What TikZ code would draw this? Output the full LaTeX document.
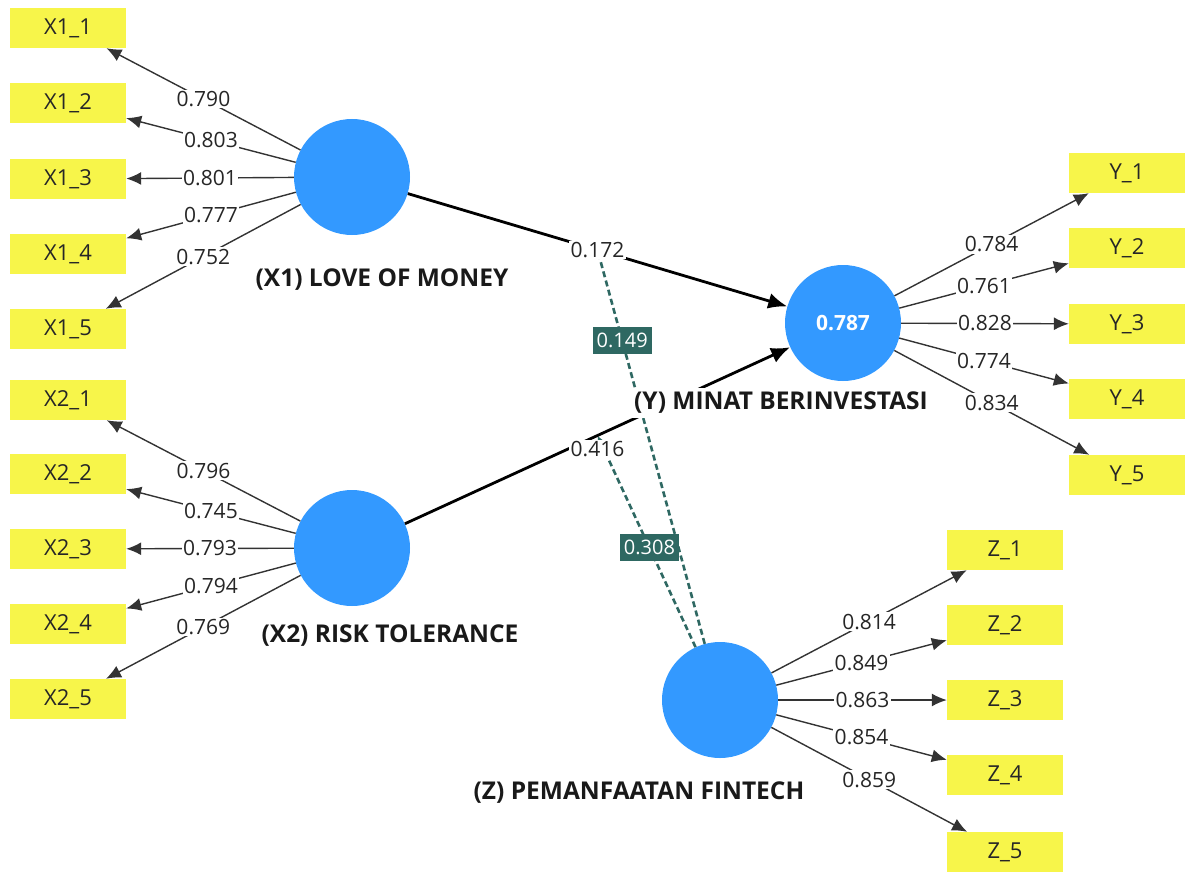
\documentclass[tikz,border=0pt]{standalone}
\usepackage{fontspec}
\setmainfont{Open Sans}
\usetikzlibrary{arrows.meta,%
	positioning,%
	calc}
\definecolor{lvblue}{RGB}{51,153,255}
\definecolor{itemyellow}{RGB}{247,245,74}
\definecolor{modteal}{RGB}{46,104,98}

\begin{document}
\begin{tikzpicture}[x=1pt, y=-1pt, latent/.style = {circle, fill=lvblue, minimum size=116pt, inner sep=0pt, text=white, font=\fontsize{21}{24}\selectfont\bfseries}, item/.style = {fill=itemyellow, minimum width=116pt, minimum height=40pt, inner sep=0pt, text=black!85, font=\fontsize{22}{25}\selectfont}, lvname/.style = {fill=white, inner sep=4pt, font=\fontsize{24.5}{28}\selectfont\bfseries, text=black!90}, loading/.style = {draw=black!80, line width=1.4pt, -{Latex[length=15pt,width=13pt]}}, structural/.style = {draw=black, line width=2.8pt, -{Latex[length=19pt,width=16pt]}}, moderation/.style = {draw=modteal, line width=2.6pt, dash pattern=on 6pt off 3.5pt, -{Latex[length=8pt,width=8pt]}}, weight/.style = {fill=white, inner sep=1.5pt, text=black!85, font=\fontsize{21}{24}\selectfont}, modweight/.style = {fill=modteal, inner xsep=4pt, inner ysep=6pt, text=white, font=\fontsize{20}{23}\selectfont}]
	\useasboundingbox (0,0) rectangle (1186,872);
	% latent variables
	\node[latent] (x1) at (352,177) {};
	\node[latent] (x2) at (352,548) {};
	\node[latent] (y) at (843,323) {0.787};
	\node[latent] (z) at (720,700) {};
	% indicators
	\node[item] (x11) at (68,28) {X1\_1};
	\node[item] (x12) at (68,103) {X1\_2};
	\node[item] (x13) at (68,179) {X1\_3};
	\node[item] (x14) at (68,254) {X1\_4};
	\node[item] (x15) at (68,329) {X1\_5};
	\node[item] (x21) at (68,400) {X2\_1};
	\node[item] (x22) at (68,474) {X2\_2};
	\node[item] (x23) at (68,549) {X2\_3};
	\node[item] (x24) at (68,624) {X2\_4};
	\node[item] (x25) at (68,699) {X2\_5};
	\node[item] (y1) at (1127,173) {Y\_1};
	\node[item] (y2) at (1127,248) {Y\_2};
	\node[item] (y3) at (1127,324) {Y\_3};
	\node[item] (y4) at (1127,399) {Y\_4};
	\node[item] (y5) at (1127,475) {Y\_5};
	\node[item] (z1) at (1005,550) {Z\_1};
	\node[item] (z2) at (1005,625) {Z\_2};
	\node[item] (z3) at (1005,700) {Z\_3};
	\node[item] (z4) at (1005,775) {Z\_4};
	\node[item] (z5) at (1005,852) {Z\_5};
	% outer loadings
	\draw[loading] (x1) -- node[weight] {0.790} (x11);
	\draw[loading] (x1) -- node[weight] {0.803} (x12);
	\draw[loading] (x1) -- node[weight] {0.801} (x13);
	\draw[loading] (x1) -- node[weight] {0.777} (x14);
	\draw[loading] (x1) -- node[weight] {0.752} (x15);
	\draw[loading] (x2) -- node[weight] {0.796} (x21);
	\draw[loading] (x2) -- node[weight] {0.745} (x22);
	\draw[loading] (x2) -- node[weight] {0.793} (x23);
	\draw[loading] (x2) -- node[weight] {0.794} (x24);
	\draw[loading] (x2) -- node[weight] {0.769} (x25);
	\draw[loading] (y) -- node[weight] {0.784} (y1);
	\draw[loading] (y) -- node[weight] {0.761} (y2);
	\draw[loading] (y) -- node[weight] {0.828} (y3);
	\draw[loading] (y) -- node[weight] {0.774} (y4);
	\draw[loading] (y) -- node[weight] {0.834} (y5);
	\draw[loading] (z) -- node[weight] {0.814} (z1);
	\draw[loading] (z) -- node[weight] {0.849} (z2);
	\draw[loading] (z) -- node[weight] {0.863} (z3);
	\draw[loading] (z) -- node[weight] {0.854} (z4);
	\draw[loading] (z) -- node[weight] {0.859} (z5);
	% moderating effects
	\coordinate (m1) at ($(x1)!.5!(y)$);
	\coordinate (m2) at ($(x2)!.5!(y)$);
	\draw[moderation] (z) -- node[modweight, pos=.77] {0.149} (m1);
	\draw[moderation] (z) -- node[modweight, pos=.47] {0.308} (m2);
	% path coefficients
	\draw[structural] (x1) -- node[weight] {0.172} (y);
	\draw[structural] (x2) -- node[weight, yshift=-14pt] {0.416} (y);
	% construct names, drawn over the lines
	\node[lvname] (x1name) at (382,280) {(X1) LOVE OF MONEY};
	\node[lvname] (x2name) at (390,636) {(X2) RISK TOLERANCE};
	\node[lvname] (yname) at (781,403) {(Y) MINAT BERINVESTASI};
	\node[lvname] (zname) at (639,793) {(Z) PEMANFAATAN FINTECH};
\end{tikzpicture}
\end{document}
